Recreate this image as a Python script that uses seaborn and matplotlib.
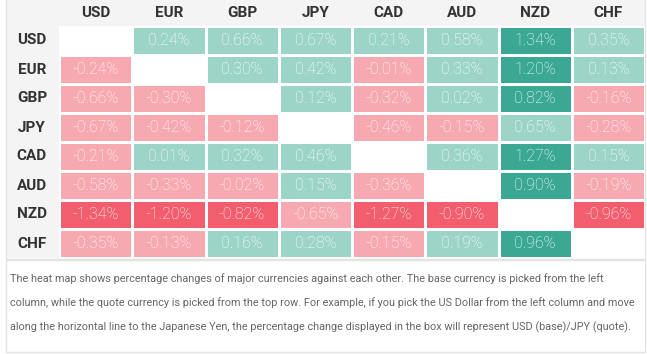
import numpy as np
import pandas as pd
import matplotlib
matplotlib.use("Agg")
import matplotlib.pyplot as plt
from matplotlib.colors import ListedColormap, BoundaryNorm
from matplotlib.patches import Rectangle
import seaborn as sns

currencies = ["USD", "EUR", "GBP", "JPY", "CAD", "AUD", "NZD", "CHF"]

# percentage change, base (row) / quote (column); None on the diagonal
usd = [None, 0.24, 0.66, 0.67, 0.21, 0.58, 1.34, 0.35]
eur = [-0.24, None, 0.30, 0.42, -0.01, 0.33, 1.20, 0.13]
gbp = [-0.66, -0.30, None, 0.12, -0.32, 0.02, 0.82, -0.16]
jpy = [-0.67, -0.42, -0.12, None, -0.46, -0.15, 0.65, -0.28]
cad = [-0.21, 0.01, 0.32, 0.46, None, 0.36, 1.27, 0.15]
aud = [-0.58, -0.33, -0.02, 0.15, -0.36, None, 0.90, -0.19]
nzd = [-1.34, -1.20, -0.82, -0.65, -1.27, -0.90, None, -0.96]
chf = [-0.35, -0.13, 0.16, 0.28, -0.15, 0.19, 0.96, None]

note = ("The heat map shows percentage changes of major currencies against each other. The base currency is picked from the left\n"
        "column, while the quote currency is picked from the top row. For example, if you pick the US Dollar from the left column and move\n"
        "along the horizontal line to the Japanese Yen, the percentage change displayed in the box will represent USD (base)/JPY (quote).")

df = pd.DataFrame([usd, eur, gbp, jpy, cad, aud, nzd, chf],
                  index=currencies, columns=currencies, dtype=float)
mask = df.isna()
annot = df.map(lambda v: "" if pd.isna(v) else f"{v:.2f}%")

cmap = ListedColormap(["#f25e6e", "#f7a9b1", "#9cd5c8", "#3aa893"])
norm = BoundaryNorm([-10, -0.75, 0, 0.75, 10], cmap.N)

W, H = 647, 354
fig = plt.figure(figsize=(W / 100, H / 100), dpi=100)
plt.rcParams['font.family'] = ['Roboto', 'DejaVu Sans']

def px(x0, y0, x1, y1):
    # pixel box (top-left origin) -> figure coords
    return [x0 / W, 1 - y1 / H, (x1 - x0) / W, (y1 - y0) / H]

bg = fig.add_axes([0, 0, 1, 1])
bg.set_xlim(0, W)
bg.set_ylim(H, 0)
bg.axis("off")
bg.add_patch(Rectangle((5.5, 0), 639.5, 26, facecolor="#f4f4f4", edgecolor="none"))
bg.add_patch(Rectangle((5.5, 26), 53.5, 232, facecolor="#f4f4f4", edgecolor="none"))
bg.add_patch(Rectangle((5.5, -2), 639.5, 260.5, facecolor="none", edgecolor="#e3e3e3", lw=1))
bg.add_patch(Rectangle((5.5, 259.5), 639.5, 92.5, facecolor="none", edgecolor="#e3e3e3", lw=1))

ax = fig.add_axes(px(59, 26, 645, 258))
sns.heatmap(df, mask=mask, cmap=cmap, norm=norm, cbar=False, annot=annot, fmt="",
            linewidths=1, linecolor="white", ax=ax,
            annot_kws={"color": "white", "fontsize": 11.5, "fontweight": "light"})
ax.set_facecolor("white")
ax.xaxis.tick_top()
ax.tick_params(length=0)
ax.set_xticklabels(currencies, fontsize=11, fontweight="bold", color="#333333")
ax.set_yticklabels(currencies, fontsize=11, fontweight="bold", color="#333333", rotation=0)
for lbl in ax.get_yticklabels():
    lbl.set_horizontalalignment("center")
ax.tick_params(axis="x", pad=4)
ax.tick_params(axis="y", pad=19.5)
ax.set_xlabel("")
ax.set_ylabel("")

bg.text(10, 273, note, fontsize=7.8, color="#666666", va="top", ha="left",
        linespacing=2.5)

fig.savefig("out.png", dpi=100)
